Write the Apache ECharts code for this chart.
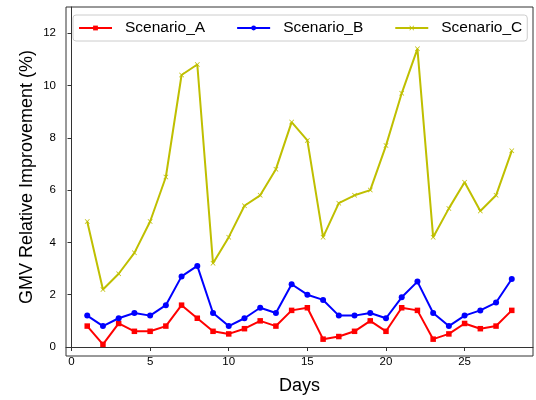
<!DOCTYPE html>
<html>
<head>
<meta charset="utf-8">
<script src="https://cdn.jsdelivr.net/npm/echarts@6/dist/echarts.min.js"></script>
<style>html,body{margin:0;padding:0;background:#fff}#c{width:536px;height:400px}</style>
</head>
<body>
<div id="c"></div>
<script>
var days = [1,2,3,4,5,6,7,8,9,10,11,12,13,14,15,16,17,18,19,20,21,22,23,24,25,26,27,28];
var scenarioA = [0.8,0.1,0.9,0.6,0.6,0.8,1.6,1.1,0.6,0.5,0.7,1.0,0.8,1.4,1.5,0.3,0.4,0.6,1.0,0.6,1.5,1.4,0.3,0.5,0.9,0.7,0.8,1.4];
var scenarioB = [1.2,0.8,1.1,1.3,1.2,1.6,2.7,3.1,1.3,0.8,1.1,1.5,1.3,2.4,2.0,1.8,1.2,1.2,1.3,1.1,1.9,2.5,1.3,0.8,1.2,1.4,1.7,2.6];
var scenarioC = [4.8,2.2,2.8,3.6,4.8,6.5,10.4,10.8,3.2,4.2,5.4,5.8,6.8,8.6,7.9,4.2,5.5,5.8,6.0,7.7,9.7,11.4,4.2,5.3,6.3,5.2,5.8,7.5];
var xTicks = [0,5,10,15,20,25];
var yTicks = [0,2,4,6,8,10,12];
var seriesNames = ['Scenario_A','Scenario_B','Scenario_C'];

function pairs(v){ return days.map(function(d,i){ return [d, v[i]]; }); }
var font = 'Liberation Sans, Arial, sans-serif';
var xMark = 'path://M0,1L1,0L5,4L9,0L10,1L6,5L10,9L9,10L5,6L1,10L0,9L4,5Z';

var chart = echarts.init(document.getElementById('c'), null, {renderer:'canvas'});
chart.setOption({
  animation: false,
  grid: {left: 66, right: 3, top: 7, bottom: 44, containLabel: false},
  legend: {
    left: 73, top: 15,
    padding: [4, 5, 4, 5],
    itemWidth: 33, itemHeight: 6, itemGap: 31,
    borderColor: '#cccccc', borderWidth: 1, borderRadius: 3,
    textStyle: {fontFamily: font, fontSize: 15.5, color: '#000', padding: [0,0,0,8], lineHeight: 18},
    data: seriesNames
  },
  xAxis: {
    type: 'value', min: -0.35, max: 29.35,
    name: 'Days', nameLocation: 'middle', nameGap: 30, nameMoveOverlap: false,
    nameTextStyle: {fontFamily: font, fontSize: 18, color: '#000'},
    axisLine: {onZero: false, lineStyle: {color: '#333', width: 1}},
    axisTick: {show: true, length: 4, lineStyle: {color: '#333'}, customValues: xTicks},
    axisLabel: {fontFamily: font, fontSize: 11.5, color: '#000', margin: 9, customValues: xTicks},
    splitLine: {show: false}
  },
  yAxis: {
    type: 'value', min: 0, max: 13,
    name: 'GMV Relative Improvement (%)', nameLocation: 'middle', nameGap: 30, nameRotate: 90, nameMoveOverlap: false,
    nameTextStyle: {fontFamily: font, fontSize: 18, color: '#000'},
    axisLine: {show: true, lineStyle: {color: '#333', width: 1}},
    axisTick: {show: true, length: 4, lineStyle: {color: '#333'}, customValues: yTicks},
    axisLabel: {fontFamily: font, fontSize: 11.5, color: '#000', margin: 10, customValues: yTicks},
    splitLine: {show: false}
  },
  graphic: [{
    type: 'rect', shape: {x: 66, y: 7, width: 467, height: 349},
    style: {fill: 'none', stroke: '#333', lineWidth: 1}, silent: true, z: 0
  }],
  series: [
    {name: seriesNames[0], type: 'line', data: pairs(scenarioA), symbol: 'rect', symbolSize: 5.5,
     lineStyle: {color: '#ff0000', width: 2}, itemStyle: {color: '#ff0000'}},
    {name: seriesNames[1], type: 'line', data: pairs(scenarioB), symbol: 'circle', symbolSize: 6,
     lineStyle: {color: '#0000ff', width: 2}, itemStyle: {color: '#0000ff'}},
    {name: seriesNames[2], type: 'line', data: pairs(scenarioC), symbol: xMark, symbolSize: 5,
     lineStyle: {color: '#bfbf00', width: 2}, itemStyle: {color: '#bfbf00'}}
  ]
});
</script>
</body>
</html>
